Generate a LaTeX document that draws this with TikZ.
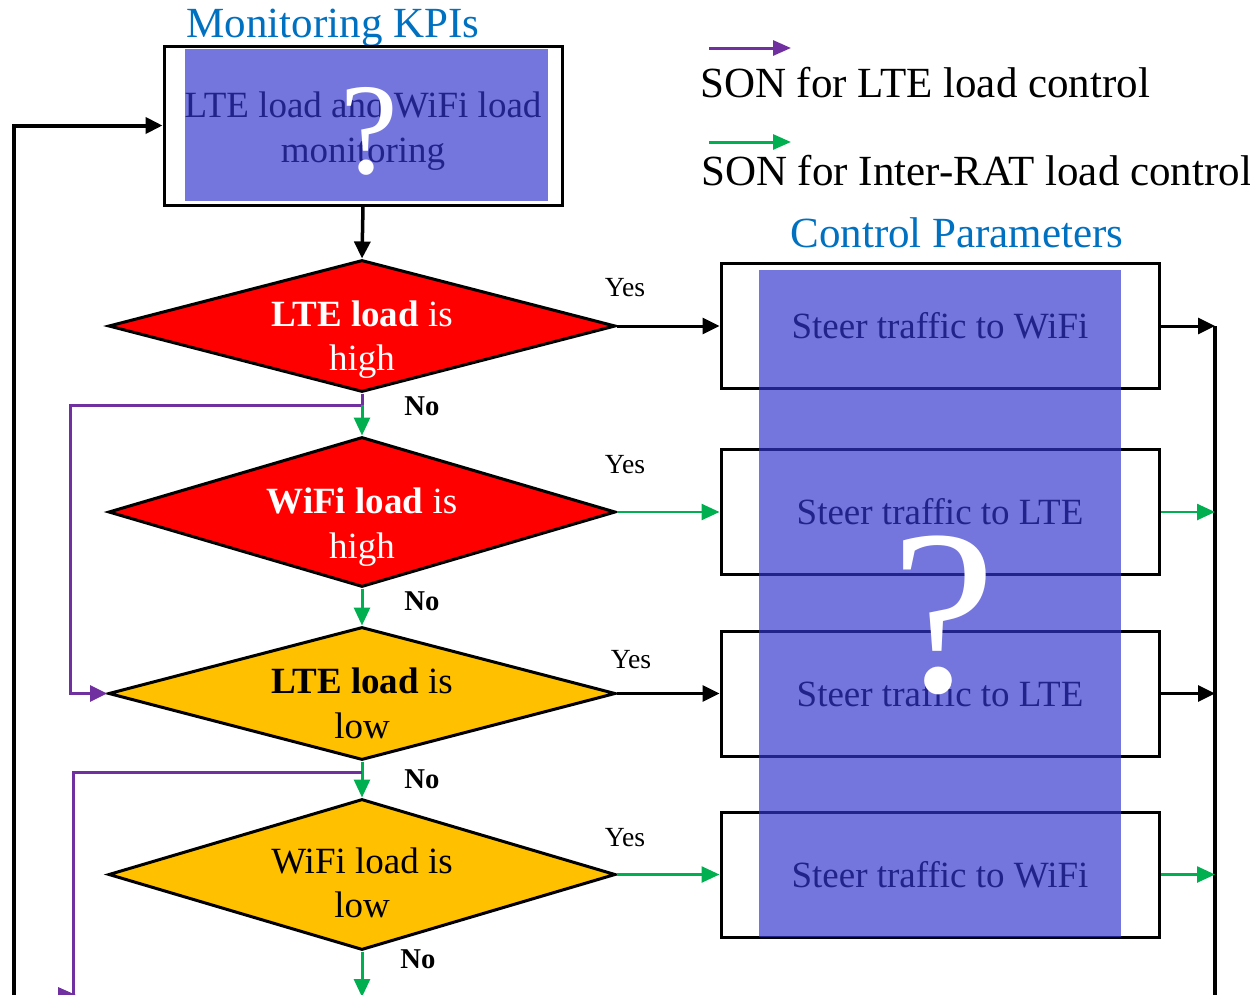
\documentclass[tikz,border=0pt]{standalone}
\usepackage{fontspec}
\setmainfont{Liberation Serif}
\usetikzlibrary{arrows.meta,shapes.geometric}
\definecolor{ovl}{RGB}{51,51,206}
\definecolor{kpiblue}{RGB}{0,112,192}
\definecolor{sonpurple}{RGB}{112,48,160}
\definecolor{songreen}{RGB}{0,176,80}
\definecolor{dorange}{RGB}{255,192,0}
\begin{document}
\begin{tikzpicture}[x=1pt,y=-1pt,
  dia/.style={diamond,draw=black,line width=3pt,inner sep=0pt,minimum width=507pt},
  kpibox/.style={draw=black,line width=3pt,minimum width=398pt,minimum height=159pt,inner sep=0pt},
  sbox/.style={draw=black,line width=3pt,minimum width=438pt,minimum height=125pt,inner sep=0pt,font=\fontsize{37}{46}\selectfont},
  dtext/.style={anchor=base,inner sep=0pt,font=\fontsize{37}{46}\selectfont},
  yeslab/.style={anchor=base,inner sep=0pt,font=\fontsize{27.7}{32}\selectfont},
  nolab/.style={anchor=base,inner sep=0pt,font=\fontsize{28.7}{32}\selectfont\bfseries},
  bigtext/.style={inner sep=0pt,font=\fontsize{43}{50}\selectfont},
  qmark/.style={anchor=base,inner sep=0pt,text=white},
  blkarrow/.style={draw=black,line width=3pt,-{Triangle[length=17pt,width=16pt]}},
  blkline/.style={draw=black,line width=4pt},
  grnarrow/.style={draw=songreen,line width=3pt,-{Triangle[length=18pt,width=16pt]}},
  purarrow/.style={draw=sonpurple,line width=3pt,-{Triangle[length=17pt,width=16pt]}},
  purline/.style={draw=sonpurple,line width=3pt},
  overlayfill/.style={fill=ovl,opacity=0.68}
]
\useasboundingbox (0,0) rectangle (1250,994);
\clip (0,0) rectangle (1250,994);

% titles and legend
\node[bigtext,text=kpiblue,anchor=base] (ttl1) at (333,37) {Monitoring KPIs};
\node[bigtext,text=kpiblue,anchor=base] (ttl2) at (957,247) {Control Parameters};
\coordinate (lg1a) at (709,48);
\coordinate (lg1b) at (791,48);
\coordinate (lg2a) at (709,142);
\coordinate (lg2b) at (791,142);
\draw[purarrow,-{Triangle[length=18pt,width=15pt]}] (lg1a) -- (lg1b);
\draw[grnarrow,-{Triangle[length=18pt,width=15pt]}] (lg2a) -- (lg2b);
\node[bigtext,anchor=base west] (lgt1) at (700,97) {SON for LTE load control};
\node[bigtext,anchor=base west] (lgt2) at (701,185) {SON for Inter-RAT load control};

% top box
\node[kpibox] (kpi) at (363,125.5) {};
\node[dtext] (kpit1) at (363,117) {LTE load and WiFi load};
\node[dtext] (kpit2) at (363,162) {monitoring};

% diamonds
\node[dia,fill=red,minimum height=132pt] (d1) at (362,326) {};
\node[dtext,text=white] (d1a) at (362,326) {\textbf{LTE load} is};
\node[dtext,text=white] (d1b) at (362,370) {high};

\node[dia,fill=red,minimum height=150pt] (d2) at (362,512) {};
\node[dtext,text=white] (d2a) at (362,513) {\textbf{WiFi load} is};
\node[dtext,text=white] (d2b) at (362,558) {high};

\node[dia,fill=dorange,minimum height=133pt] (d3) at (362,693.5) {};
\node[dtext] (d3a) at (362,693) {\textbf{LTE load} is};
\node[dtext] (d3b) at (362,738) {low};

\node[dia,fill=dorange,minimum height=151pt] (d4) at (362,874.5) {};
\node[dtext] (d4a) at (362,873) {WiFi load is};
\node[dtext] (d4b) at (362,917) {low};

% right boxes
\node[sbox] (s1) at (940,326) {Steer traffic to WiFi};
\node[sbox] (s2) at (940,512) {Steer traffic to LTE};
\node[sbox] (s3) at (940,693.5) {Steer traffic to LTE};
\node[sbox] (s4) at (940,874.5) {Steer traffic to WiFi};

% main flow
\draw[blkarrow,line width=3.5pt,-{Triangle[length=17pt,width=16pt]}] (kpi.south) -- (d1.north);
\coordinate (p1) at (362,405);
\coordinate (pl1) at (70,405);
\coordinate (p2) at (362,772);
\coordinate (pl2) at (73,772);
\coordinate (pb2) at (73,1010);
\coordinate (gb) at (362,997);
\draw[purline] (d1.south) -- (p1);
\draw[purarrow] (p1) -- (pl1) |- (d3.west);
\draw[grnarrow] (p1) -- (d2.north);
\draw[grnarrow] (d2.south) -- (d3.north);
\draw[grnarrow] (d3.south) -- (d4.north);
\draw[purline] (p2) -- (pl2) -- (pb2);
\fill[sonpurple] (58,987) -- (76,995) -- (58,1003) -- cycle;
\draw[grnarrow] (d4.south) -- (gb);

% yes branches
\draw[blkarrow] (d1.east) -- (s1.west);
\draw[grnarrow,line width=2.5pt] (d2.east) -- (s2.west);
\draw[blkarrow] (d3.east) -- (s3.west);
\draw[grnarrow,line width=2.5pt] (d4.east) -- (s4.west);
\node[yeslab] (y1) at (625,296) {Yes};
\node[yeslab] (y2) at (625,473) {Yes};
\node[yeslab] (y3) at (631,668) {Yes};
\node[yeslab] (y4) at (625,846) {Yes};
\node[nolab] (n1) at (422,415) {No};
\node[nolab] (n2) at (422,610) {No};
\node[nolab] (n3) at (422,788) {No};
\node[nolab] (n4) at (418,968) {No};

% right collector line
\coordinate (r1) at (1215,326);
\coordinate (r2) at (1215,512);
\coordinate (r3) at (1215,693.5);
\coordinate (r4) at (1215,874.5);
\coordinate (rb) at (1215,1010);
\draw[draw=black,line width=4pt] (r1) -- (rb);
\draw[blkarrow] (s1.east) -- (r1);
\draw[grnarrow,line width=2.5pt] (s2.east) -- (r2);
\draw[blkarrow] (s3.east) -- (r3);
\draw[grnarrow,line width=2.5pt] (s4.east) -- (r4);

% left feedback loop
\coordinate (lb) at (14,1010);
\draw[blkline,-{Triangle[length=17pt,width=16pt]}] (lb) |- (kpi.west);

% overlays
\fill[overlayfill] (185,49) rectangle (548,201);
\fill[overlayfill] (759,270) rectangle (1121,937);
\node[qmark,font=\fontsize{130}{130}\selectfont] (q1) at (369,173) {?};
\node[qmark,font=\fontsize{235}{235}\selectfont] (q2) at (944,691) {?};
\end{tikzpicture}
\end{document}
